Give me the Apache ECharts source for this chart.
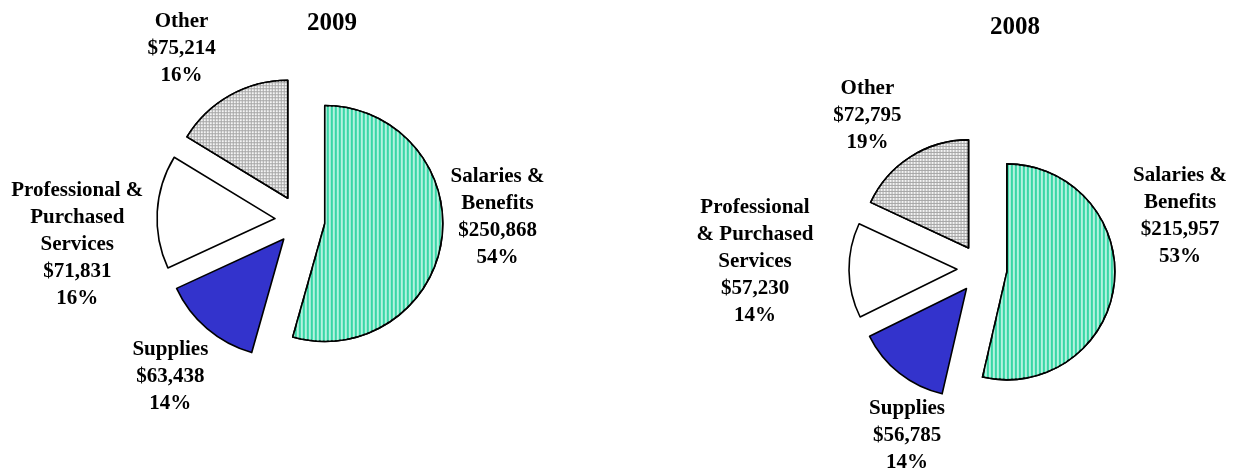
<!DOCTYPE html>
<html>
<head>
<meta charset="utf-8">
<script src="https://cdn.jsdelivr.net/npm/echarts@6/dist/echarts.min.js"></script>
<style>
  html, body { margin: 0; padding: 0; background: #fff; }
  #main { width: 1234px; height: 471px; }
</style>
</head>
<body>
<div id="main"></div>
<script>
// 数据
var names2009 = ['Salaries &\nBenefits', 'Supplies', 'Professional &\nPurchased\nServices', 'Other'];
var values2009 = [250868, 63438, 71831, 75214];
var pct2009 = [54, 14, 16, 16];

var names2008 = ['Salaries &\nBenefits', 'Supplies', 'Professional\n& Purchased\nServices', 'Other'];
var values2008 = [215957, 56785, 57230, 72795];
var pct2008 = [53, 14, 14, 19];

// 标签微调 (dx, dy)
var nudge2009 = [[36, -25], [-22, 36], [-60, 34], [-36, -34]];
var nudge2008 = [[46, -70], [22, 51], [-74, -9], [-30, -29]];

var fills = [
    { color: '#38d6a6', decal: { symbol: 'rect', symbolSize: 1, color: '#b4f2df', dashArrayX: [2, 2], dashArrayY: [4, 0], rotation: 0 } },
    { color: '#3333cc' },
    { color: '#ffffff' },
    { color: '#a6a6a6', decal: { symbol: 'rect', symbolSize: 1, color: '#f4f4f4', dashArrayX: [2, 1], dashArrayY: [2, 1], rotation: 0 } }
];

function money(v) {
    return '$' + v.toString().replace(/\B(?=(\d{3})+(?!\d))/g, ',');
}

function buildData(names, values) {
    return names.map(function (n, i) {
        var style = {
            color: fills[i].color,
            borderColor: '#000',
            borderWidth: 1.6
        };
        if (fills[i].decal) {
            style.decal = fills[i].decal;
        }
        return {
            name: n,
            value: values[i],
            selected: true,
            itemStyle: style
        };
    });
}

function makeSeries(names, values, pcts, nudge, center, radius) {
    return {
        type: 'pie',
        center: center,
        radius: radius,
        startAngle: 90,
        clockwise: true,
        selectedMode: 'multiple',
        selectedOffset: 25,
        avoidLabelOverlap: false,
        emphasis: { scale: false },
        label: {
            show: true,
            position: 'outside',
            alignTo: 'none',
            overflow: 'none',
            formatter: function (p) {
                var lines = p.name.split('\n');
                lines.push(money(p.value));
                lines.push(pcts[p.dataIndex] + '%');
                return lines.map(function (l) { return '{c|' + l + '}'; }).join('\n');
            },
            rich: {
                c: {
                    align: 'center',
                    fontFamily: 'Liberation Serif',
                    fontWeight: 'bold',
                    fontSize: 21,
                    lineHeight: 27,
                    color: '#000'
                }
            }
        },
        labelLine: { show: false, length: 15, length2: 0 },
        labelLayout: function (p) {
            var n = nudge[p.dataIndex];
            return { align: 'center', verticalAlign: 'middle', dx: n[0], dy: n[1] };
        },
        data: buildData(names, values)
    };
}

var chart = echarts.init(document.getElementById('main'));
var option = {
    animation: false,
    backgroundColor: '#fff',
    title: [
        {
            text: '2009', left: 327, top: 6, textAlign: 'center',
            textStyle: { fontFamily: 'Liberation Serif', fontWeight: 'bold', fontSize: 25, color: '#000' }
        },
        {
            text: '2008', left: 1010, top: 10, textAlign: 'center',
            textStyle: { fontFamily: 'Liberation Serif', fontWeight: 'bold', fontSize: 25, color: '#000' }
        }
    ],
    series: [
        makeSeries(names2009, values2009, pct2009, nudge2009, [300, 220], 118),
        makeSeries(names2008, values2008, pct2008, nudge2008, [982, 269], 108)
    ]
};
chart.setOption(option);
</script>
</body>
</html>
